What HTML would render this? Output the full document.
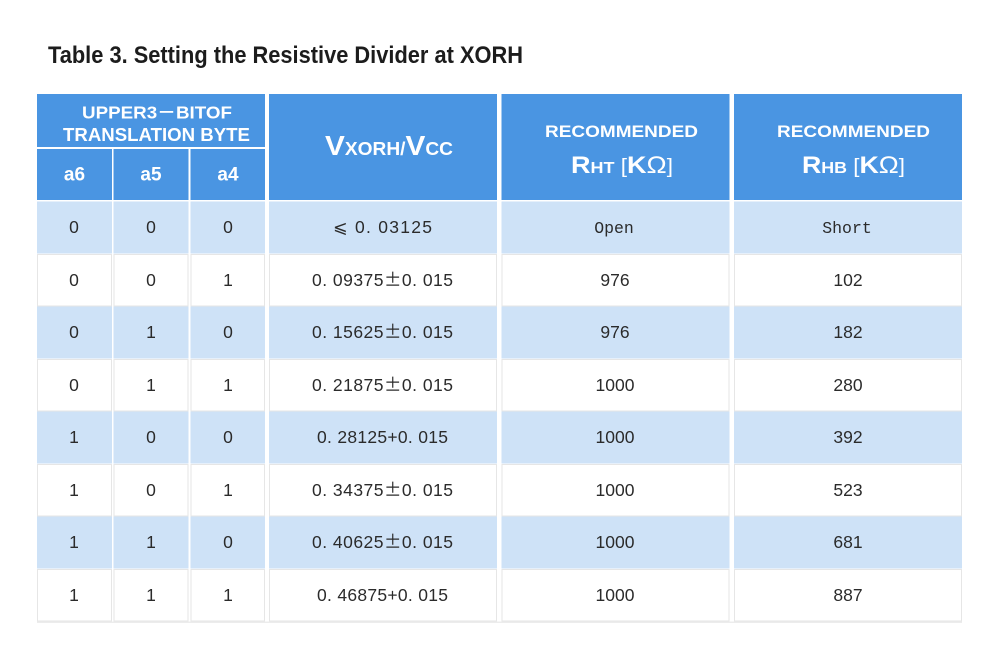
<!DOCTYPE html>
<html>
<head>
<meta charset="utf-8">
<style>
  html,body{margin:0;padding:0;background:#fff;}
  svg{display:block;}
  .h{font-family:"Liberation Sans","Noto Sans CJK SC",sans-serif;font-weight:bold;fill:#fff;}
  .b{font-family:"Liberation Sans","Noto Sans CJK SC",sans-serif;font-size:17.5px;fill:#2b2b2b;}
  .m{font-family:"Liberation Mono","Noto Sans CJK SC",monospace;font-size:16.5px;fill:#2b2b2b;}
  .pm{font-family:"Noto Sans CJK SC",sans-serif;}
</style>
</head>
<body>
<svg width="1000" height="660" viewBox="0 0 1000 660" xmlns="http://www.w3.org/2000/svg">
  <rect x="0" y="0" width="1000" height="660" fill="#fff"/>

  <!-- Title -->
  <text x="48" y="63" font-family="Liberation Sans, sans-serif" font-weight="bold" font-size="24" fill="#1c1c1c" textLength="475" lengthAdjust="spacingAndGlyphs">Table 3. Setting the Resistive Divider at XORH</text>

  <!-- Header backgrounds -->
  <g fill="#4a95e2">
    <rect x="37" y="94" width="228" height="53"/>
    <rect x="37" y="149" width="75" height="51"/>
    <rect x="113.5" y="149" width="75" height="51"/>
    <rect x="190.5" y="149" width="74.5" height="51"/>
    <rect x="269" y="94" width="228" height="106"/>
    <rect x="501.5" y="94" width="228" height="106"/>
    <rect x="734" y="94" width="228" height="106"/>
  </g>

  <!-- Header texts -->
  <text class="h" x="157" y="118.5" font-size="17.5" text-anchor="middle" textLength="150" lengthAdjust="spacingAndGlyphs">UPPER3－BITOF</text>
  <text class="h" x="156.5" y="141" font-size="18" text-anchor="middle" textLength="187" lengthAdjust="spacingAndGlyphs">TRANSLATION BYTE</text>
  <text class="h" x="74.5" y="180.5" font-size="19" text-anchor="middle">a6</text>
  <text class="h" x="151" y="180.5" font-size="19" text-anchor="middle">a5</text>
  <text class="h" x="228" y="180.5" font-size="19" text-anchor="middle">a4</text>

  <text class="h" x="389" y="155" text-anchor="middle" textLength="128" lengthAdjust="spacingAndGlyphs"><tspan font-size="28">V</tspan><tspan font-size="18">XORH/</tspan><tspan font-size="28">V</tspan><tspan font-size="18">CC</tspan></text>

  <text class="h" x="621.5" y="137" font-size="17" text-anchor="middle" textLength="153" lengthAdjust="spacingAndGlyphs">RECOMMENDED</text>
  <text class="h" x="622" y="173" text-anchor="middle" textLength="102" lengthAdjust="spacingAndGlyphs"><tspan font-size="24">R</tspan><tspan font-size="16">HT</tspan><tspan font-size="20" font-weight="normal"> [</tspan><tspan font-size="24">K</tspan><tspan font-size="24" font-weight="normal">Ω</tspan><tspan font-size="20" font-weight="normal">]</tspan></text>

  <text class="h" x="853.5" y="137" font-size="17" text-anchor="middle" textLength="153" lengthAdjust="spacingAndGlyphs">RECOMMENDED</text>
  <text class="h" x="853.5" y="173" text-anchor="middle" textLength="103" lengthAdjust="spacingAndGlyphs"><tspan font-size="24">R</tspan><tspan font-size="16">HB</tspan><tspan font-size="20" font-weight="normal"> [</tspan><tspan font-size="24">K</tspan><tspan font-size="24" font-weight="normal">Ω</tspan><tspan font-size="20" font-weight="normal">]</tspan></text>

  <!-- Body rows: light -->
  <g fill="#cee2f7">
    <g id="lr">
      <rect x="37" y="201.5" width="75" height="52"/>
      <rect x="113.5" y="201.5" width="75" height="52"/>
      <rect x="190.5" y="201.5" width="74.5" height="52"/>
      <rect x="269" y="201.5" width="228" height="52"/>
      <rect x="501.5" y="201.5" width="228" height="52"/>
      <rect x="734" y="201.5" width="228" height="52"/>
    </g>
    <use href="#lr" y="105"/>
    <use href="#lr" y="210"/>
    <use href="#lr" y="315"/>
  </g>

  <!-- Body rows: white with faint borders -->
  <g fill="#ffffff" stroke="#e6e6e6" stroke-width="1">
    <g id="wr">
      <rect x="37.5" y="254.5" width="74" height="51.5"/>
      <rect x="114" y="254.5" width="74" height="51.5"/>
      <rect x="191" y="254.5" width="73.5" height="51.5"/>
      <rect x="269.5" y="254.5" width="227" height="51.5"/>
      <rect x="502" y="254.5" width="227" height="51.5"/>
      <rect x="734.5" y="254.5" width="227" height="51.5"/>
    </g>
    <use href="#wr" y="105"/>
    <use href="#wr" y="210"/>
    <use href="#wr" y="315"/>
  </g>
  <!-- subtle bottom shadow -->
  <rect x="37" y="621.5" width="925" height="1.5" fill="#ececec"/>

  <g text-anchor="middle">
    <text class="b" x="74" y="233">0</text><text class="b" x="151" y="233">0</text><text class="b" x="228" y="233">0</text>
    <text class="b" x="382.5" y="233" textLength="99"><tspan class="pm">⩽</tspan> 0. 03125</text>
    <text class="m" x="614" y="233">Open</text>
    <text class="m" x="847" y="233">Short</text>

    <text class="b" x="74" y="286">0</text><text class="b" x="151" y="286">0</text><text class="b" x="228" y="286">1</text>
    <text class="b" x="382.5" y="286" textLength="141">0. 09375<tspan class="pm">±</tspan>0. 015</text>
    <text class="b" x="615" y="286">976</text>
    <text class="b" x="848" y="286">102</text>

    <text class="b" x="74" y="338">0</text><text class="b" x="151" y="338">1</text><text class="b" x="228" y="338">0</text>
    <text class="b" x="382.5" y="338" textLength="141">0. 15625<tspan class="pm">±</tspan>0. 015</text>
    <text class="b" x="615" y="338">976</text>
    <text class="b" x="848" y="338">182</text>

    <text class="b" x="74" y="391">0</text><text class="b" x="151" y="391">1</text><text class="b" x="228" y="391">1</text>
    <text class="b" x="382.5" y="391" textLength="141">0. 21875<tspan class="pm">±</tspan>0. 015</text>
    <text class="b" x="615" y="391">1000</text>
    <text class="b" x="848" y="391">280</text>

    <text class="b" x="74" y="443">1</text><text class="b" x="151" y="443">0</text><text class="b" x="228" y="443">0</text>
    <text class="b" x="382.5" y="443" textLength="131">0. 28125+0. 015</text>
    <text class="b" x="615" y="443">1000</text>
    <text class="b" x="848" y="443">392</text>

    <text class="b" x="74" y="496">1</text><text class="b" x="151" y="496">0</text><text class="b" x="228" y="496">1</text>
    <text class="b" x="382.5" y="496" textLength="141">0. 34375<tspan class="pm">±</tspan>0. 015</text>
    <text class="b" x="615" y="496">1000</text>
    <text class="b" x="848" y="496">523</text>

    <text class="b" x="74" y="548">1</text><text class="b" x="151" y="548">1</text><text class="b" x="228" y="548">0</text>
    <text class="b" x="382.5" y="548" textLength="141">0. 40625<tspan class="pm">±</tspan>0. 015</text>
    <text class="b" x="615" y="548">1000</text>
    <text class="b" x="848" y="548">681</text>

    <text class="b" x="74" y="601">1</text><text class="b" x="151" y="601">1</text><text class="b" x="228" y="601">1</text>
    <text class="b" x="382.5" y="601" textLength="131">0. 46875+0. 015</text>
    <text class="b" x="615" y="601">1000</text>
    <text class="b" x="848" y="601">887</text>
  </g>
</svg>
</body>
</html>
